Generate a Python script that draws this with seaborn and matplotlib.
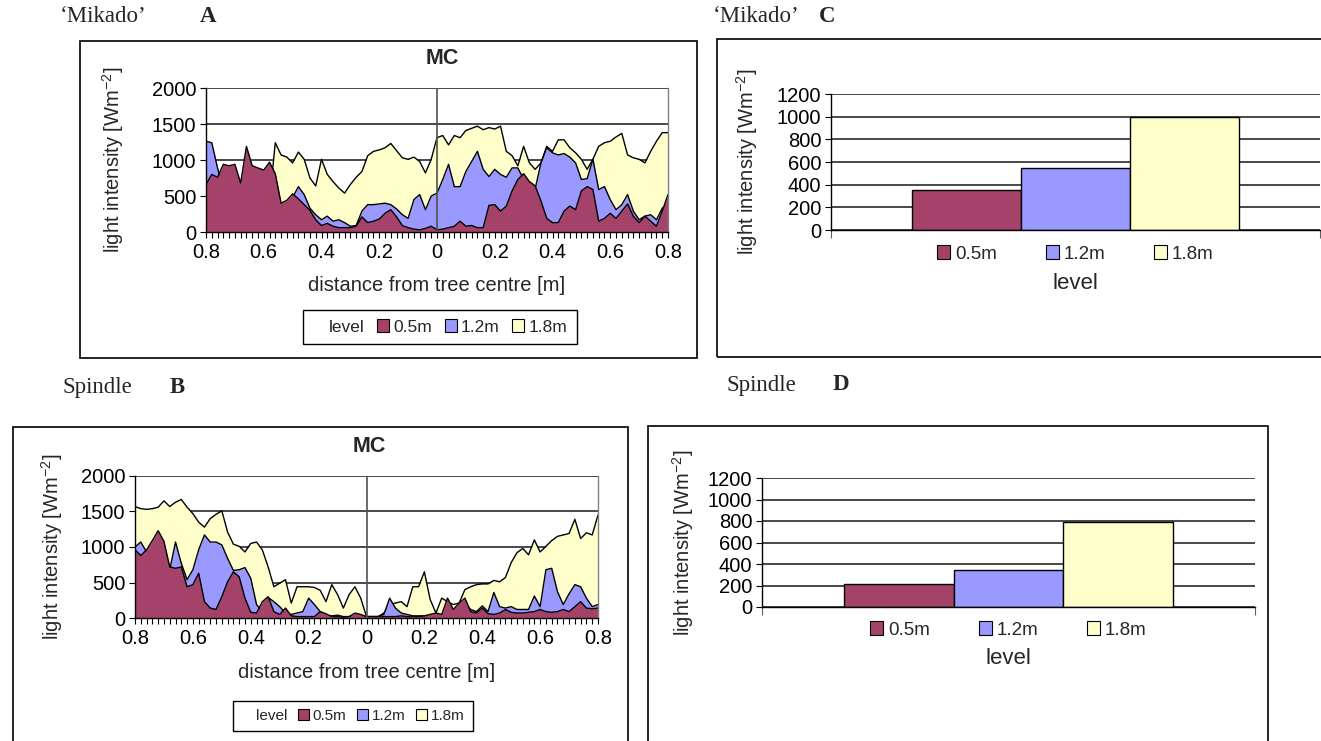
import matplotlib.pyplot as plt
import seaborn as sns
import pandas as pd
import numpy as np
from matplotlib.patches import Patch, Rectangle

# distance along the row, -0.8 (one side) to 0.8 (other side), one reading every 0.02 m
distance = np.round(np.arange(-40, 41) * 0.02, 2)
tick_pos = [-0.8, -0.6, -0.4, -0.2, 0, 0.2, 0.4, 0.6, 0.8]
tick_labels = ['0.8', '0.6', '0.4', '0.2', '0', '0.2', '0.4', '0.6', '0.8']

levels = ['0.5m', '1.2m', '1.8m']

# 'Mikado' (panel A)
mikado_05 = [660, 800, 760, 940, 920, 940, 680, 1190, 920, 890, 860, 970, 810, 400, 440, 530, 460, 380, 300, 170,
             90, 120, 80, 60, 60, 60, 80, 210, 130, 150, 180, 260, 310, 210, 90, 60, 40, 30, 50, 80,
             30, 40, 60, 80, 150, 80, 90, 60, 60, 370, 380, 290, 360, 570, 730, 810, 700, 640, 430, 190,
             130, 130, 290, 360, 310, 570, 630, 590, 150, 190, 260, 190, 290, 390, 220, 130, 220, 150, 80, 290, 520]
mikado_12 = [1260, 1240, 890, 600, 550, 520, 480, 450, 450, 420, 400, 400, 380, 350, 380, 480, 630, 520, 330, 240,
             170, 220, 150, 170, 130, 80, 90, 290, 380, 380, 390, 400, 380, 320, 240, 190, 450, 520, 310, 500,
             540, 730, 940, 630, 630, 840, 980, 1120, 870, 770, 870, 800, 760, 890, 890, 730, 650, 600, 960, 1170,
             1100, 1070, 1090, 1040, 960, 730, 740, 1010, 590, 630, 450, 310, 380, 520, 290, 170, 220, 240, 170, 330, 400]
mikado_18 = [600, 620, 580, 560, 540, 520, 500, 480, 470, 460, 450, 440, 1240, 1070, 1040, 960, 1110, 1010, 750, 640,
             1010, 800, 700, 610, 540, 660, 760, 840, 1060, 1120, 1140, 1170, 1230, 1130, 1030, 1010, 1040, 980, 820, 1010,
             1310, 1340, 1210, 1340, 1310, 1410, 1440, 1470, 1420, 1450, 1430, 1470, 1120, 1060, 920, 1190, 960, 870, 960, 1190,
             1120, 1280, 1280, 1170, 1100, 1010, 870, 1010, 1190, 1240, 1260, 1320, 1370, 1070, 1030, 1010, 960, 1120, 1260, 1380, 1380]

# Spindle (panel B)
spindle_05 = [960, 880, 960, 1090, 1230, 1080, 720, 700, 720, 440, 470, 630, 230, 140, 120, 300, 510, 650, 580, 280,
              80, 70, 230, 300, 90, 50, 140, 30, 20, 20, 20, 20, 90, 60, 20, 20, 10, 20, 70, 50,
              20, 20, 20, 20, 20, 20, 30, 20, 20, 20, 30, 50, 70, 50, 280, 120, 210, 280, 90, 70,
              140, 60, 50, 70, 120, 80, 70, 70, 80, 90, 120, 90, 80, 90, 120, 90, 160, 230, 140, 130, 140]
spindle_12 = [1000, 1070, 930, 910, 860, 820, 680, 1070, 770, 540, 680, 960, 1170, 1070, 1070, 1030, 840, 670, 680, 710,
              560, 190, 90, 290, 230, 160, 70, 50, 70, 90, 280, 190, 90, 30, 30, 40, 20, 20, 30, 20,
              20, 20, 20, 50, 280, 140, 70, 50, 30, 30, 30, 20, 20, 30, 90, 90, 160, 210, 120, 90,
              170, 90, 360, 160, 140, 160, 120, 120, 120, 310, 160, 680, 700, 370, 190, 340, 470, 440, 280, 160, 190]
spindle_18 = [1570, 1540, 1530, 1540, 1560, 1650, 1570, 1630, 1670, 1560, 1470, 1350, 1280, 1400, 1460, 1510, 1210, 1040, 1010, 930,
              1050, 1070, 960, 720, 440, 490, 540, 210, 440, 440, 440, 430, 390, 230, 470, 330, 140, 330, 440, 280,
              20, 20, 20, 70, 190, 210, 230, 160, 440, 440, 650, 260, 70, 280, 230, 190, 210, 400, 440, 470,
              480, 480, 530, 510, 570, 780, 920, 980, 890, 1100, 930, 1010, 1090, 1150, 1170, 1190, 1390, 1120, 1200, 1170, 1450]

# mean light intensity per level (panels C and D)
mikado_mean = [350, 550, 1000]
spindle_mean = [215, 345, 790]

colours = ['#A4426A', '#9999FF', '#FFFFCC']
W, H = 1321, 741
FS = 14.5


def box(x0, y0, x1, y1):
    # pixel box (top-left origin) -> figure fraction
    return [x0 / W, 1 - y1 / H, (x1 - x0) / W, (y1 - y0) / H]


def frame(fig, x0, y0, x1, y1):
    fig.add_artist(Rectangle((x0 / W, 1 - y1 / H), (x1 - x0) / W, (y1 - y0) / H,
                             transform=fig.transFigure, fill=False, edgecolor='black', linewidth=1.2))


def header(fig, x_name, x_letter, y, name, letter):
    fig.text(x_name / W, 1 - y / H, name, fontsize=16.5, family='Liberation Serif', va='center')
    fig.text(x_letter / W, 1 - y / H, letter, fontsize=16.5, family='Liberation Serif', weight='bold', va='center')


def area_panel(fig, rect, red, blue, yellow, title_xy, xlab_y, ylab_x, legend_xy, legend_fs):
    ax = fig.add_axes(box(*rect))
    z = 1.0
    for vals, colour in ((yellow, colours[2]), (blue, colours[1]), (red, colours[0])):
        ax.fill_between(distance, vals, color=colour, linewidth=0, zorder=z)
        sns.lineplot(x=distance, y=vals, ax=ax, color='black', linewidth=1, zorder=z + 0.1)
        z += 0.2
    ax.axvline(0, color='#505050', linewidth=1.2, zorder=5)
    ax.set_xlim(-0.8, 0.8)
    ax.set_ylim(0, 2000)
    ax.set_yticks([0, 500, 1000, 1500, 2000])
    ax.set_xticks(tick_pos)
    ax.set_xticklabels(tick_labels)
    ax.set_xticks(distance, minor=True)
    ax.yaxis.grid(True, color='#3a3a3a', linewidth=1.3)
    ax.set_axisbelow(True)
    ax.tick_params(axis='x', which='both', bottom=True, direction='out', length=4, width=0.8, color='black')
    ax.tick_params(axis='x', which='major', pad=4)
    ax.tick_params(axis='y', left=True, direction='out', length=4, width=0.8, color='black', pad=3)
    ax.tick_params(labelsize=FS, labelcolor='black')
    ax.spines['top'].set_visible(False)
    ax.spines['right'].set_color('#808080')
    for s in ('left', 'bottom'):
        ax.spines[s].set_color('black')
    ax.set_xlabel('distance from tree centre [m]', fontsize=FS)
    ax.set_ylabel('light intensity [Wm$^{-2}$]', fontsize=FS)
    ax.xaxis.set_label_coords(0.5, -(xlab_y - rect[3]) / (rect[3] - rect[1]))
    ax.xaxis.label.set_va('center')
    ax.yaxis.set_label_coords(-(rect[0] - ylab_x) / (rect[2] - rect[0]), 0.5)
    ax.yaxis.label.set_va('center')
    fig.text(title_xy[0] / W, 1 - title_xy[1] / H, 'MC', fontsize=15.5, weight='bold', ha='center', va='center')
    handles = [Patch(visible=False)] + [Patch(facecolor=c, edgecolor='black', linewidth=0.8) for c in colours]
    fig.legend(handles, ['level'] + levels, loc='center',
               bbox_to_anchor=(legend_xy[0] / W, 1 - legend_xy[1] / H), ncol=4,
               frameon=True, fancybox=False, edgecolor='black', framealpha=1,
               handlelength=0.7, handleheight=0.7, handletextpad=0.25, columnspacing=0.7,
               fontsize=legend_fs, borderpad=0.55)
    return ax


def bar_panel(fig, rect, means, legend_y, xlab_y, ylab_x):
    ax = fig.add_axes(box(*rect))
    df = pd.DataFrame({'group': [''] * 3, 'level': levels, 'value': means})
    sns.barplot(data=df, x='group', y='value', hue='level', palette=colours, saturation=1,
                width=0.667, edgecolor='black', linewidth=1, ax=ax, legend=False)
    ax.set_xlim(-0.5, 0.5)
    ax.set_ylim(0, 1200)
    ax.set_yticks(range(0, 1201, 200))
    ax.set_xticks([-0.5, 0.5])
    ax.set_xticklabels(['', ''])
    ax.yaxis.grid(True, color='#2a2a2a', linewidth=1.2)
    ax.set_axisbelow(True)
    ax.tick_params(axis='x', bottom=True, direction='out', length=6, width=0.8, color='#606060')
    ax.tick_params(axis='y', left=True, direction='out', length=4, width=0.8, color='black', pad=3)
    ax.tick_params(labelsize=FS, labelcolor='black')
    for s in ('top', 'right'):
        ax.spines[s].set_visible(False)
    for s in ('left', 'bottom'):
        ax.spines[s].set_color('black')
    ax.set_xlabel('level', fontsize=FS + 1.5)
    ax.set_ylabel('light intensity [Wm$^{-2}$]', fontsize=FS)
    ax.xaxis.set_label_coords(0.5, -(xlab_y - rect[3]) / (rect[3] - rect[1]))
    ax.xaxis.label.set_va('center')
    ax.yaxis.set_label_coords(-(rect[0] - ylab_x) / (rect[2] - rect[0]), 0.5)
    ax.yaxis.label.set_va('center')
    handles = [Patch(facecolor=c, edgecolor='black', linewidth=0.8) for c in colours]
    ax.legend(handles, levels, loc='center', bbox_to_anchor=(0.5, -(legend_y - rect[3]) / (rect[3] - rect[1])),
              ncol=3, frameon=False, handlelength=0.7, handleheight=0.7, handletextpad=0.25,
              columnspacing=2.6, fontsize=FS - 1)
    return ax


sns.set_style('white')
plt.rcParams['font.family'] = ['Liberation Sans', 'DejaVu Sans']
plt.rcParams['mathtext.default'] = 'regular'
plt.rcParams['axes.linewidth'] = 1.0

fig = plt.figure(figsize=(W / 100, H / 100), dpi=100)

frame(fig, 80, 41, 697, 358)
frame(fig, 13, 427, 628, 745)
frame(fig, 717, 39, 1330, 357)
frame(fig, 648, 426, 1268, 745)

header(fig, 60, 200, 17, '\u2018Mikado\u2019', 'A')
header(fig, 713, 819, 17, '\u2018Mikado\u2019', 'C')
header(fig, 62, 170, 387, 'Spindle', 'B')
header(fig, 727, 833, 385, 'Spindle', 'D')

area_panel(fig, (206, 88, 668, 232), mikado_05, mikado_12, mikado_18,
           title_xy=(442, 58), xlab_y=285, ylab_x=113, legend_xy=(440, 327), legend_fs=12.5)
area_panel(fig, (135, 476, 598, 618), spindle_05, spindle_12, spindle_18,
           title_xy=(369, 447), xlab_y=672, ylab_x=52, legend_xy=(353, 716), legend_fs=11)

bar_panel(fig, (831, 94, 1320, 230), mikado_mean, legend_y=254, xlab_y=283, ylab_x=747)
bar_panel(fig, (762, 478, 1255, 607), spindle_mean, legend_y=630, xlab_y=658, ylab_x=683)

fig.savefig('out.png', dpi=100)
